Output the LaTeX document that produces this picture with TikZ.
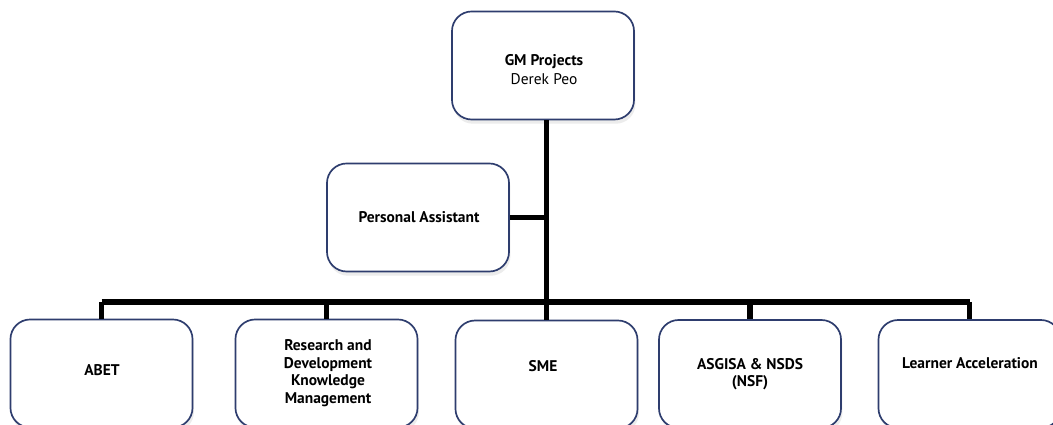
\documentclass[tikz,border=0pt]{standalone}
\usepackage{fontspec}
\setmainfont{PT Sans}
\usetikzlibrary{positioning}
\usetikzlibrary{shadows}

\definecolor{boxline}{HTML}{2E3D6E}
\tikzset{
  unit/.style={draw=boxline, line width=1.2pt, rounded corners=14pt, fill=white,
    minimum width=4.55cm, minimum height=2.7cm,
    drop shadow={opacity=0.15, shadow xshift=1pt, shadow yshift=-3pt}},
  caption/.style={align=center, text=black,
    font=\bfseries\fontsize{11}{12.5}\selectfont},
  link/.style={line width=3.6pt, black}
}

\begin{document}
\begin{tikzpicture}[x=0.025cm,y=-0.025cm]
        \clip (0,0) rectangle (1053,425);
        \fill[white] (0,0) rectangle (1053,425);
        % boxes
        \node[unit] (gm) at (543,65.5) {};
        \node[unit] (pa) at (418,217.5) {};
        \node[unit] (abet) at (101.5,373.5) {};
        \node[unit] (rdkm) at (326.5,373.5) {};
        \node[unit] (sme) at (546.5,374.5) {};
        \node[unit] (asgisa) at (750,374) {};
        \node[unit] (la) at (969.5,374) {};
        \coordinate (bar) at (0,302);
        % lines
        \draw[link] (gm.south -| sme.north) -- (sme.north);
        \draw[link] (pa.east) -- (pa.east -| sme.north);
        \draw[link] (abet.north |- bar) -- (la.north |- bar);
        \foreach \b in {abet,rdkm,asgisa,la}
          \draw[link] (\b.north |- bar) -- (\b.north);
        % texts
        \node[caption] (gm-t) at (544,70) {GM Projects\\[1pt]{\mdseries Derek Peo}};
        \node[caption] (pa-t) at (419,217) {Personal Assistant};
        \node[caption] (abet-t) at (102,370) {ABET};
        \node[caption] (rdkm-t) at (328,373) {Research and\\Development\\Knowledge\\Management};
        \node[caption] (sme-t) at (543,366) {SME};
        \node[caption] (asgisa-t) at (750,374) {ASGISA \& NSDS\\(NSF)};
        \node[caption] (la-t) at (970,363) {Learner Acceleration};
      \end{tikzpicture}
\end{document}
